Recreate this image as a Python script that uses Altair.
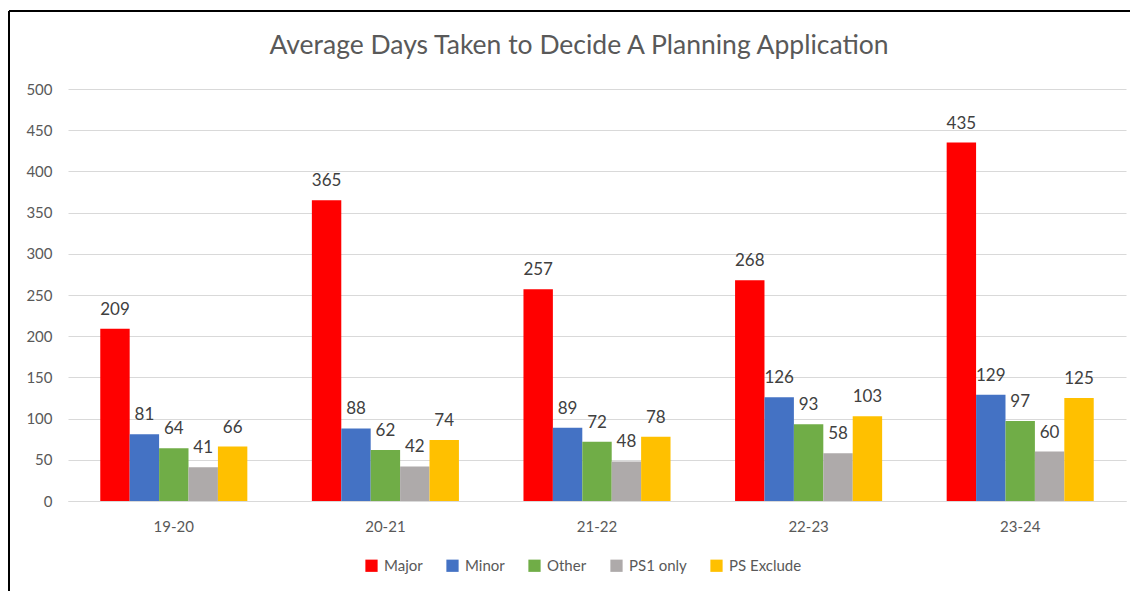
import altair as alt
import pandas as pd

years = ["19-20", "20-21", "21-22", "22-23", "23-24"]
series = ["Major", "Minor", "Other", "PS1 only", "PS Exclude"]
major = [209, 365, 257, 268, 435]
minor = [81, 88, 89, 126, 129]
other = [64, 62, 72, 93, 97]
ps1_only = [41, 42, 48, 58, 60]
ps_exclude = [66, 74, 78, 103, 125]
colors = ["#FF0000", "#4472C4", "#70AD47", "#AEAAAA", "#FFC000"]
title_text = ["Average Days Taken to Decide A Planning Application"]

rows = []
for s, vals in zip(series, [major, minor, other, ps1_only, ps_exclude]):
    for y, v in zip(years, vals):
        rows.append({"Year": y, "Series": s, "Days": v})
df = pd.DataFrame(rows)
one = pd.DataFrame({"t": title_text})

FONT = "Lato"
W, H = 1058, 412

x = alt.X("Year:N", sort=years, title=None,
          scale=alt.Scale(paddingInner=0.305, paddingOuter=0.1525),
          axis=alt.Axis(labelAngle=0, ticks=False, domain=True, domainColor="#D9D9D9",
                        labelPadding=18, labelFontSize=15, labelColor="#595959", labelFont=FONT))
xo = alt.XOffset("Series:N", sort=series, scale=alt.Scale(paddingInner=0, paddingOuter=0))
y = alt.Y("Days:Q", title=None,
          scale=alt.Scale(domain=[0, 500], nice=False),
          axis=alt.Axis(values=list(range(0, 501, 50)), ticks=False, domain=False,
                        gridColor="#D9D9D9", gridWidth=1.2, labelPadding=16,
                        labelFontSize=15, labelColor="#595959", labelFont=FONT))

color = alt.Color("Series:N", sort=series,
                  scale=alt.Scale(domain=series, range=colors),
                  legend=alt.Legend(title=None, orient="none", direction="horizontal",
                                    legendX=296, legendY=469, symbolType="square",
                                    symbolSize=150, symbolStrokeWidth=0, labelFontSize=15,
                                    labelColor="#595959", labelFont=FONT, labelOffset=5,
                                    columnPadding=22))

bars = alt.Chart(df).mark_bar().encode(x=x, xOffset=xo, y=y, color=color)
labels = alt.Chart(df).mark_text(baseline="bottom", dy=-10, fontSize=17, color="#404040",
                                 font=FONT).encode(
    x=alt.X("Year:N", sort=years), xOffset=alt.XOffset("Series:N", sort=series),
    y="Days:Q", text="Days:Q")

title = alt.Chart(one).mark_text(font=FONT, fontSize=26.5, color="#595959",
                                 align="center", baseline="middle").encode(
    x=alt.value(511), y=alt.value(-43), text="t:N")

border_top = alt.Chart(one).mark_rule(color="black", strokeWidth=2).encode(
    x=alt.value(-59), x2=alt.value(1070), y=alt.value(-78))
border_left = alt.Chart(one).mark_rule(color="black", strokeWidth=2).encode(
    x=alt.value(-59), y=alt.value(-78), y2=alt.value(520))

chart = alt.layer(bars, labels, title, border_top, border_left).properties(
    width=W, height=H,
    autosize=alt.AutoSizeParams(type="none"),
    padding={"left": 60, "top": 81, "right": 4, "bottom": 90},
).configure_view(stroke=None)

chart.save("out.html", embed_options={"renderer": "svg", "actions": False})
